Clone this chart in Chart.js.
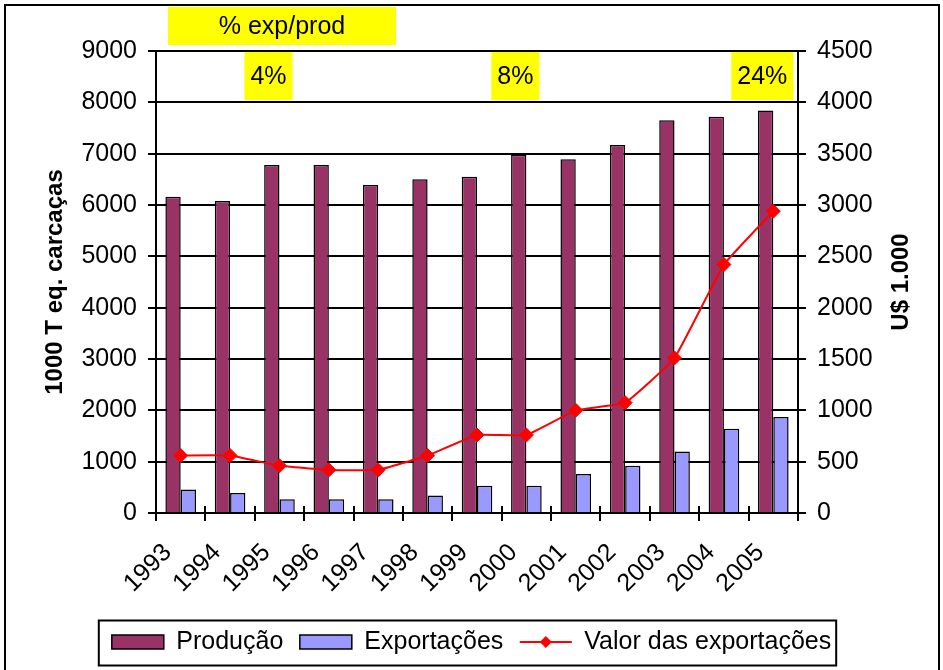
<!DOCTYPE html>
<html>
<head>
<meta charset="utf-8">
<script src="https://cdn.jsdelivr.net/npm/chart.js@4.4.1/dist/chart.umd.min.js"></script>
<style>
  html, body { margin: 0; padding: 0; background: #fff; overflow: hidden; }
  #frame {
    position: absolute; left: 4px; top: 4px; width: 932px; height: 700px;
    border: 2px solid #000;
  }
  #bpChart { position: absolute; left: 0; top: 0; }
</style>
</head>
<body>
<div id="frame"></div>
<canvas id="bpChart" width="943" height="670"></canvas>
<script>
// --- Chart data ---
const years = ['1993', '1994', '1995', '1996', '1997', '1998', '1999', '2000', '2001', '2002', '2003', '2004', '2005'];
const producao = [6160, 6080, 6780, 6780, 6390, 6500, 6550, 6980, 6890, 7170, 7650, 7720, 7840];
const exportacoes = [460, 390, 270, 270, 270, 340, 530, 530, 760, 920, 1200, 1640, 1870];
const valorExportacoes = [560, 560, 460, 420, 420, 560, 760, 760, 1000, 1075, 1510, 2420, 2940];

// % exp/prod notes and the year each one sits over
const pctTitle = '% exp/prod';
const pctLabels = ['4%', '8%', '24%'];
const pctYears = ['1995', '2000', '2005'];

const FONT = 'Arial, "Liberation Sans", sans-serif';
Chart.defaults.font.family = FONT;
Chart.defaults.color = '#000';

// plain numbers on the axes, no thousands separator
const plainTick = (value) => String(value);

// draws the yellow notes, the inner x ticks, the legend frame and the right title
const extras = {
    id: 'extras',
    afterDatasetsDraw(chart) {
        const { ctx, chartArea, scales: { x } } = chart;
        const step = x.getPixelForValue(1) - x.getPixelForValue(0);
        ctx.save();

        // tick marks on the x axis cross the line
        ctx.strokeStyle = '#000';
        ctx.lineWidth = 2;
        for (let i = 0; i <= years.length; i++) {
            const px = Math.round(x.getPixelForValue(0) - step / 2 + i * step);
            ctx.beginPath();
            ctx.moveTo(px, chartArea.bottom - 7);
            ctx.lineTo(px, chartArea.bottom);
            ctx.stroke();
        }

        // yellow boxes
        ctx.font = '25px ' + FONT;
        ctx.textAlign = 'center';
        ctx.textBaseline = 'middle';
        ctx.fillStyle = '#FFFF00';
        ctx.fillRect(chartArea.left + 12, 7, 228, 38);
        ctx.fillStyle = '#000';
        ctx.fillText(pctTitle, chartArea.left + 126, 27);

        pctLabels.forEach((label, i) => {
            const cx = x.getPixelForValue(years.indexOf(pctYears[i])) - 11;
            const w = ctx.measureText(label).width + 12;
            ctx.fillStyle = '#FFFF00';
            ctx.fillRect(cx - w / 2, chartArea.top + 1, w, 48);
            ctx.fillStyle = '#000';
            ctx.fillText(label, cx, chartArea.top + 26);
        });
        ctx.restore();
    },
    afterDraw(chart) {
        const { ctx, chartArea, legend } = chart;
        ctx.save();

        // right axis title, reading upwards
        ctx.font = 'bold 24px ' + FONT;
        ctx.textAlign = 'center';
        ctx.textBaseline = 'middle';
        ctx.translate(chartArea.right + 103, (chartArea.top + chartArea.bottom) / 2);
        ctx.rotate(-Math.PI / 2);
        ctx.fillText('U$ 1.000', 0, 0);
        ctx.setTransform(1, 0, 0, 1, 0, 0);

        // legend: line with diamond for the line series, and the frame
        const boxes = legend.legendHitBoxes;
        if (boxes && boxes.length === 3) {
            const hb = boxes[2];
            const cy = hb.top + hb.height / 2;
            ctx.strokeStyle = '#FF0000';
            ctx.lineWidth = 2;
            ctx.beginPath();
            ctx.moveTo(hb.left, cy);
            ctx.lineTo(hb.left + 52, cy);
            ctx.stroke();
            ctx.fillStyle = '#FF0000';
            ctx.beginPath();
            ctx.moveTo(hb.left + 26 - 6, cy);
            ctx.lineTo(hb.left + 26, cy - 6);
            ctx.lineTo(hb.left + 26 + 6, cy);
            ctx.lineTo(hb.left + 26, cy + 6);
            ctx.closePath();
            ctx.fill();

            const x0 = boxes[0].left - 13;
            const x1 = hb.left + hb.width + 5;
            const y0 = boxes[0].top - 9;
            const y1 = boxes[0].top + boxes[0].height + 11;
            ctx.strokeStyle = '#000';
            ctx.lineWidth = 2;
            ctx.strokeRect(x0, y0, x1 - x0, y1 - y0);
        }
        ctx.restore();
    }
};

const ctx = document.getElementById('bpChart').getContext('2d');

new Chart(ctx, {
    type: 'bar',
    data: {
        labels: years,
        datasets: [
            {
                label: 'Produção',
                data: producao,
                backgroundColor: '#993366',
                borderColor: '#000',
                borderWidth: 1.5,
                yAxisID: 'y',
                order: 1
            },
            {
                label: 'Exportações',
                data: exportacoes,
                backgroundColor: '#9999FF',
                borderColor: '#000',
                borderWidth: 1.5,
                yAxisID: 'y',
                order: 1
            },
            {
                type: 'line',
                label: 'Valor das exportações',
                data: valorExportacoes,
                borderColor: '#FF0000',
                backgroundColor: '#FF0000',
                borderWidth: 2,
                pointStyle: 'rectRot',
                pointRadius: 7,
                pointBackgroundColor: '#FF0000',
                pointBorderColor: '#FF0000',
                pointBorderWidth: 1,
                tension: 0.1,
                yAxisID: 'y1',
                order: 0
            }
        ]
    },
    options: {
        responsive: false,
        animation: false,
        devicePixelRatio: 1,
        categoryPercentage: 0.62,
        barPercentage: 1.0,
        layout: { padding: { left: 0, right: 0, top: 51, bottom: 5.5 } },
        scales: {
            x: {
                offset: true,
                grid: { offset: true, drawOnChartArea: false, color: '#000', lineWidth: 2, tickLength: 8 },
                border: { color: '#000', width: 2 },
                ticks: {
                    font: { size: 25 }, minRotation: 45, maxRotation: 45, autoSkip: false,
                    padding: 17, labelOffset: -13
                },
                afterFit: (scale) => { scale.height = 100; }
            },
            y: {
                position: 'left',
                min: 0,
                max: 9000,
                ticks: { stepSize: 1000, font: { size: 25 }, padding: 11, callback: plainTick },
                grid: { color: '#000', lineWidth: 2, tickLength: 8 },
                border: { color: '#000', width: 2 },
                title: {
                    display: true,
                    text: '1000 T eq. carcaças',
                    font: { size: 24, weight: 'bold' },
                    padding: { top: 41, bottom: 0 }
                },
                afterFit: (scale) => { scale.width = 156; }
            },
            y1: {
                position: 'right',
                min: 0,
                max: 4500,
                ticks: { stepSize: 500, font: { size: 25 }, padding: 11, callback: plainTick },
                grid: { drawOnChartArea: false, color: '#000', lineWidth: 2, tickLength: 8 },
                border: { color: '#000', width: 2 },
                afterFit: (scale) => { scale.width = 145; }
            }
        },
        plugins: {
            tooltip: { enabled: false },
            legend: {
                position: 'bottom',
                labels: {
                    font: { size: 25 },
                    boxWidth: 52,
                    boxHeight: 14,
                    padding: 16.5,
                    sort: (a, b) => a.datasetIndex - b.datasetIndex,
                    generateLabels: (chart) => {
                        const items = Chart.defaults.plugins.legend.labels.generateLabels(chart);
                        items.forEach(item => {
                            if (item.datasetIndex === 2) {
                                // drawn by the extras plugin as a line with a diamond
                                item.fillStyle = 'rgba(0,0,0,0)';
                                item.strokeStyle = 'rgba(0,0,0,0)';
                                item.lineWidth = 0;
                            }
                        });
                        return items;
                    }
                }
            }
        }
    },
    plugins: [extras]
});
</script>
</body>
</html>
